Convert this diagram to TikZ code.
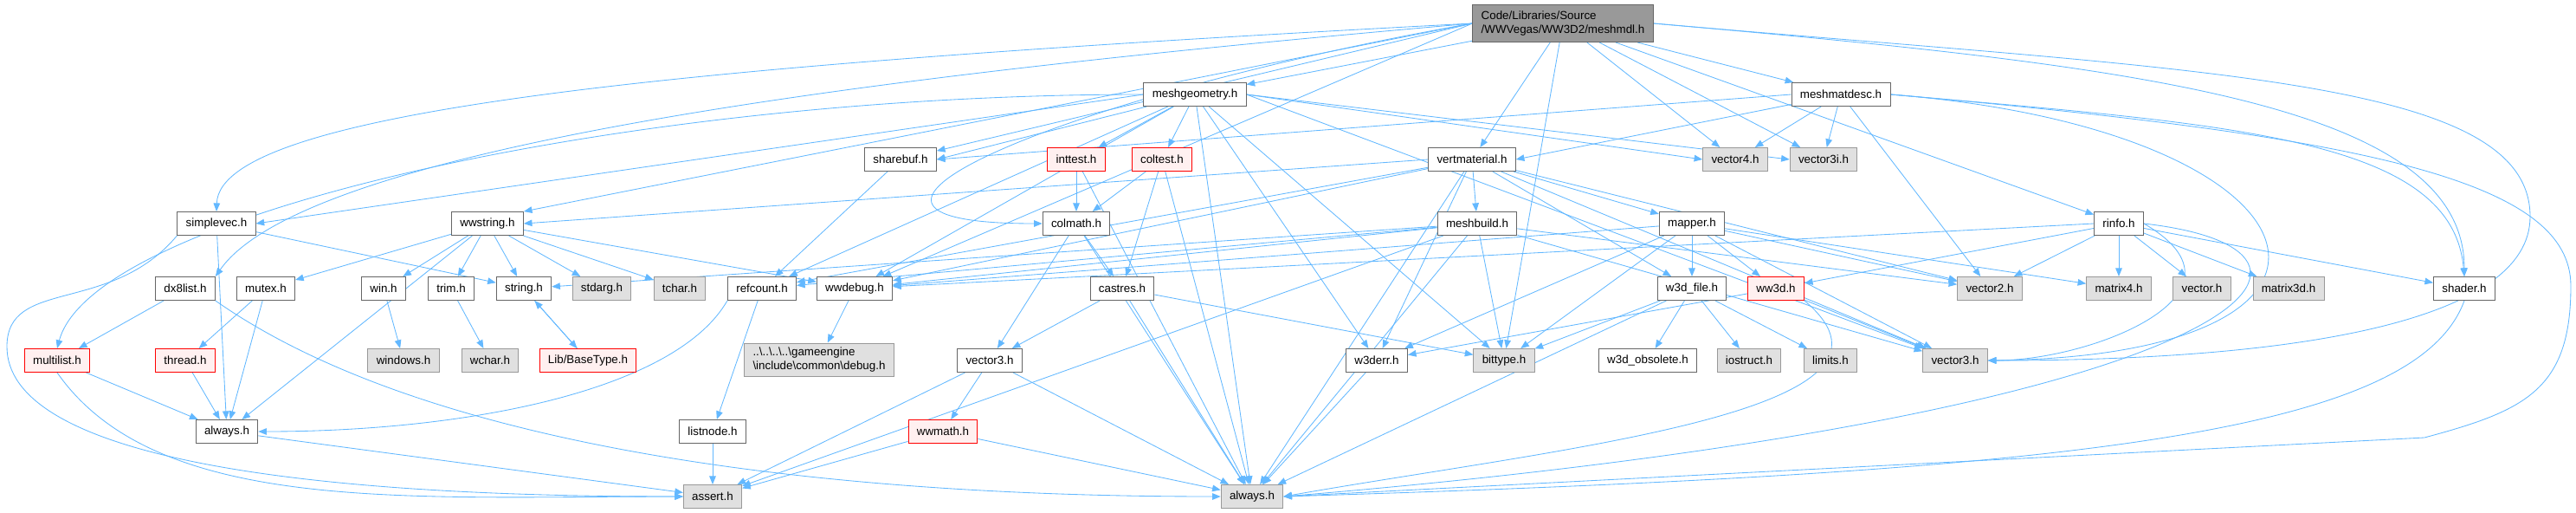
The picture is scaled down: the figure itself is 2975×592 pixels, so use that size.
\documentclass[tikz,border=0pt]{standalone}
\usepackage{fontspec}
\setmainfont{Liberation Sans}
\usepackage{tikz}
\usetikzlibrary{positioning,arrows,arrows.meta,calc,shapes}
\pgfdeclarelayer{background}
\pgfsetlayers{background,main}
\definecolor{edgeblue}{HTML}{63B8FF}
\definecolor{sysfill}{HTML}{E0E0E0}
\definecolor{sysline}{HTML}{999999}
\definecolor{hdrline}{HTML}{666666}
\definecolor{rootfill}{HTML}{999999}
\definecolor{brokenfill}{HTML}{FFF0F0}
\tikzstyle{arrow} = [thick,->,>=stealth]

\begin{document}
\begin{tikzpicture}[
        x=0.025cm, y=-0.025cm,
        header/.style={
            rectangle,
            draw=hdrline,
            fill=white,
            line width=0.7pt,
            minimum height=0.675cm,
            inner xsep=7pt,
            font=\fontsize{9.5}{11.5}\selectfont
        },
        sysheader/.style={header, draw=sysline, fill=sysfill},
        broken/.style={header, draw=red, fill=brokenfill},
        rootfile/.style={header, draw=hdrline, fill=rootfill, align=left, minimum height=1.075cm},
        flow/.style={draw=edgeblue, line width=0.6pt, -{Triangle[length=0.24cm,width=0.19cm]}}
    ]

    \useasboundingbox (0,0) rectangle (2975,592);

    % top rows
    \node[rootfile] (main) at (1805,27)
        {Code/Libraries/Source\\/WWVegas/WW3D2/meshmdl.h};

    \node[header] (meshgeometry) at (1380,109) {meshgeometry.h};
    \node[header] (meshmatdesc) at (2126,109) {meshmatdesc.h};

    \node[header] (sharebuf) at (1040,184) {sharebuf.h};
    \node[broken] (inttest) at (1243,184) {inttest.h};
    \node[broken] (coltest) at (1342,184) {coltest.h};
    \node[header] (vertmaterial) at (1700,184) {vertmaterial.h};
    \node[sysheader] (vector4) at (2004,184) {vector4.h};
    \node[sysheader] (vector3i) at (2106,184) {vector3i.h};

    \node[header] (simplevec) at (250,258) {simplevec.h};
    \node[header] (wwstring) at (563,258) {wwstring.h};
    \node[header] (colmath) at (1243,258) {colmath.h};
    \node[header] (meshbuild) at (1706,258) {meshbuild.h};
    \node[header] (mapper) at (1954,258) {mapper.h};
    \node[header] (rinfo) at (2447,258) {rinfo.h};

    % middle rows
    \node[header] (dx8list) at (214,333) {dx8list.h};
    \node[header] (mutex) at (307,333) {mutex.h};
    \node[header] (win) at (443,333) {win.h};
    \node[header] (trim) at (521,333) {trim.h};
    \node[header] (string) at (605,333) {string.h};
    \node[sysheader] (stdarg) at (695,333) {stdarg.h};
    \node[sysheader] (tchar) at (785,333) {tchar.h};
    \node[header] (refcount) at (880,333) {refcount.h};
    \node[header] (wwdebug) at (987,333) {wwdebug.h};
    \node[header] (castres) at (1296,333) {castres.h};
    \node[header] (w3dfile) at (1954,333) {w3d\_file.h};
    \node[broken] (ww3d) at (2051,333) {ww3d.h};
    \node[sysheader] (vector2) at (2298,333) {vector2.h};
    \node[sysheader] (matrix4) at (2447,333) {matrix4.h};
    \node[sysheader] (vector) at (2543,333) {vector.h};
    \node[sysheader] (matrix3d) at (2643,333) {matrix3d.h};
    \node[header] (shader) at (2846,333) {shader.h};

    \node[broken] (multilist) at (66,416) {multilist.h};
    \node[broken] (thread) at (214,416) {thread.h};
    \node[sysheader] (windows) at (466,416) {windows.h};
    \node[sysheader] (wchar) at (566,416) {wchar.h};
    \node[broken] (basetype) at (679,416) {Lib/BaseType.h};
    \node[sysheader, align=left] (debug) at (946,415)
        {..\textbackslash..\textbackslash..\textbackslash..\textbackslash gameengine\\\textbackslash include\textbackslash common\textbackslash debug.h};
    \node[header] (vector3) at (1143,416) {vector3.h};
    \node[header] (w3derr) at (1590,416) {w3derr.h};
    \node[sysheader] (bittype) at (1737,416) {bittype.h};
    \node[header] (w3dobsolete) at (1903,416) {w3d\_obsolete.h};
    \node[sysheader] (iostruct) at (2020,416) {iostruct.h};
    \node[sysheader] (limits) at (2114,416) {limits.h};
    \node[sysheader] (vector3g) at (2258,416) {vector3.h};

    % bottom rows
    \node[header] (always) at (262,498) {always.h};
    \node[header] (listnode) at (823,498) {listnode.h};
    \node[broken] (wwmath) at (1089,498) {wwmath.h};
    \node[sysheader] (assert) at (823,573) {assert.h};
    \node[sysheader] (alwaysg) at (1446,573) {always.h};

    \coordinate (rootbend) at (2922,250);
    \coordinate (descbend) at (2969,330);
    \coordinate (descdrop) at (2800,505);
    \coordinate (leftbend) at (8,400);

    \begin{pgfonlayer}{background}
    % meshmdl.h
    \draw[flow] (main) -- (meshgeometry);
    \draw[flow] (main) -- (meshmatdesc);
    \draw[flow] (main) -- (vertmaterial);
    \draw[flow] (main.west) -- (sharebuf);
    \draw[flow] (main) -- (vector4);
    \draw[flow] (main) -- (vector3i);
    \draw[flow] (main) -- (bittype);
    \draw[flow] (main) -- (rinfo);
    \draw[flow] (main.west) -- (wwdebug);
    \draw[flow] (main.west) .. controls +(185:14cm) and +(55:5cm) .. (dx8list.north east);
    \draw[flow] (main.west) -- (wwstring.north east);
    \draw[flow] (main.west) .. controls +(183:22cm) and +(88:3cm) .. (simplevec.north);
    \draw[flow] (main.west) .. controls +(190:12cm) and +(180:8cm) .. (colmath.west);
    \draw[flow] (main.east) .. controls +(-5:14cm) and +(90:5cm) .. (shader.north);
    \draw[flow] (main.east) .. controls +(-5:16cm) and +(90:4cm) .. (rootbend)
        .. controls +(-90:3cm) and +(0:9cm) .. (vector3g.east);

    % meshgeometry.h
    \draw[flow] (meshgeometry.west) -- (simplevec.east);
    \draw[flow] (meshgeometry.west) .. controls +(180:15cm) and +(75:4cm) .. (multilist.north);
    \draw[flow] (meshgeometry) -- (sharebuf.east);
    \draw[flow] (meshgeometry) -- (inttest);
    \draw[flow] (meshgeometry) -- (coltest);
    \draw[flow] (meshgeometry) -- (refcount);
    \draw[flow] (meshgeometry) -- (wwdebug);
    \draw[flow] (meshgeometry) -- (w3derr);
    \draw[flow] (meshgeometry) -- (bittype);
    \draw[flow] (meshgeometry) -- (alwaysg);
    \draw[flow] (meshgeometry.east) -- (vector4.west);
    \draw[flow] (meshgeometry.east) -- (vector3i.west);
    \draw[flow] (meshgeometry.east) -- (vector3g);

    % meshmatdesc.h
    \draw[flow] (meshmatdesc.west) -- (sharebuf.east);
    \draw[flow] (meshmatdesc) -- (vertmaterial.east);
    \draw[flow] (meshmatdesc) -- (vector4);
    \draw[flow] (meshmatdesc) -- (vector3i);
    \draw[flow] (meshmatdesc) -- (vector2);
    \draw[flow] (meshmatdesc.east) .. controls +(-5:10cm) and +(95:4cm) .. (shader.north);
    \draw[flow] (meshmatdesc.east) .. controls (2700,150) and (2780,410) .. (vector3g.east);
    \draw[flow] (meshmatdesc.east) .. controls +(-5:14cm) and +(90:3cm) .. (descbend)
        .. controls +(-90:3cm) and +(15:3cm) .. (descdrop) -- (alwaysg.east);

    % vertmaterial.h
    \draw[flow] (vertmaterial.west) -- (wwstring.east);
    \draw[flow] (vertmaterial) -- (refcount);
    \draw[flow] (vertmaterial) -- (wwdebug);
    \draw[flow] (vertmaterial) -- (meshbuild);
    \draw[flow] (vertmaterial) -- (mapper);
    \draw[flow] (vertmaterial) -- (w3dfile);
    \draw[flow] (vertmaterial) -- (w3derr);
    \draw[flow] (vertmaterial) -- (alwaysg);
    \draw[flow] (vertmaterial) -- (vector2);
    \draw[flow] (vertmaterial) -- (vector3g);

    % collision headers
    \draw[flow] (sharebuf) -- (refcount);
    \draw[flow] (inttest) -- (colmath);
    \draw[flow] (inttest) -- (alwaysg);
    \draw[flow] (coltest) -- (colmath);
    \draw[flow] (coltest) -- (castres);
    \draw[flow] (coltest) -- (alwaysg);
    \draw[flow] (colmath) -- (vector3);
    \draw[flow] (colmath) -- (castres);
    \draw[flow] (colmath) -- (alwaysg);
    \draw[flow] (castres) -- (vector3);
    \draw[flow] (castres) -- (alwaysg);
    \draw[flow] (castres) -- (bittype);
    \draw[flow] (vector3) -- (wwmath);
    \draw[flow] (vector3) -- (assert);
    \draw[flow] (vector3) -- (alwaysg);
    \draw[flow] (wwmath) -- (assert);
    \draw[flow] (wwmath) -- (alwaysg);

    % wwlib headers
    \draw[flow] (simplevec) -- (string);
    \draw[flow] (simplevec) -- (always);
    \draw[flow] (simplevec.south west) .. controls +(230:3cm) and +(90:2cm) .. (leftbend)
        .. controls +(-90:3cm) and +(180:12cm) .. (assert.west);
    \draw[flow] (wwstring) -- (mutex);
    \draw[flow] (wwstring) -- (win);
    \draw[flow] (wwstring) -- (trim);
    \draw[flow] (wwstring) -- (string);
    \draw[flow] (wwstring) -- (stdarg);
    \draw[flow] (wwstring) -- (tchar);
    \draw[flow] (wwstring) -- (wwdebug);
    \draw[flow] (wwstring) -- (always);
    \draw[flow] (dx8list) -- (multilist);
    \draw[flow] (dx8list.south east) .. controls +(-35:8cm) and +(180:10cm) .. (alwaysg.west);
    \draw[flow] (mutex) -- (thread);
    \draw[flow] (mutex) -- (always);
    \draw[flow] (multilist) -- (always);
    \draw[flow] (multilist.south) .. controls +(-55:5cm) and +(180:8cm) .. (assert.west);
    \draw[flow] (thread) -- (always);
    \draw[flow] (always) -- (assert);
    \draw[flow] (win) -- (windows);
    \draw[flow] (trim) -- (wchar);
    \draw[flow] (string) -- (basetype);
    \draw[flow] (basetype) -- (string);
    \draw[flow] (refcount) -- (listnode);
    \draw[flow] (refcount.south west) .. controls +(-120:3cm) and +(0:6cm) .. (always.east);
    \draw[flow] (listnode) -- (assert);
    \draw[flow] (wwdebug) -- (debug);

    % meshbuild.h and mapper.h
    \draw[flow] (meshbuild) -- (refcount);
    \draw[flow] (meshbuild) -- (wwdebug);
    \draw[flow] (meshbuild) -- (string);
    \draw[flow] (meshbuild) -- (bittype);
    \draw[flow] (meshbuild) -- (alwaysg);
    \draw[flow] (meshbuild) -- (vector2);
    \draw[flow] (meshbuild) -- (vector3g);
    \draw[flow] (meshbuild) -- (assert);
    \draw[flow] (mapper) -- (wwdebug);
    \draw[flow] (mapper) -- (w3dfile);
    \draw[flow] (mapper) -- (ww3d);
    \draw[flow] (mapper) -- (w3derr);
    \draw[flow] (mapper) -- (bittype);
    \draw[flow] (mapper) -- (vector2);
    \draw[flow] (mapper) -- (vector3g);
    \draw[flow] (mapper) -- (matrix4);

    % w3d headers
    \draw[flow] (w3dfile) -- (w3dobsolete);
    \draw[flow] (w3dfile) -- (iostruct);
    \draw[flow] (w3dfile) -- (limits);
    \draw[flow] (w3dfile) -- (bittype);
    \draw[flow] (w3dfile) -- (alwaysg);
    \draw[flow] (ww3d) -- (w3derr);
    \draw[flow] (ww3d) -- (vector3g);
    \draw[flow] (ww3d.south east) .. controls +(-40:5cm) and +(10:8cm) .. (alwaysg.east);
    \draw[flow] (w3derr) -- (alwaysg);

    % rinfo.h
    \draw[flow] (rinfo) -- (ww3d);
    \draw[flow] (rinfo.west) -- (wwdebug);
    \draw[flow] (rinfo) -- (vector2);
    \draw[flow] (rinfo) -- (matrix4);
    \draw[flow] (rinfo) -- (vector);
    \draw[flow] (rinfo) -- (matrix3d);
    \draw[flow] (rinfo) -- (shader);
    \draw[flow] (rinfo.east) .. controls +(-30:4cm) and +(0:3cm) .. (vector3g.east);
    \draw[flow] (rinfo.east) .. controls (2760,290) and (2600,480) .. (alwaysg.east);
    \draw[flow] (shader.south) .. controls (2790,500) and (2400,545) .. (alwaysg.east);
    \end{pgfonlayer}

    \end{tikzpicture}
\end{document}
